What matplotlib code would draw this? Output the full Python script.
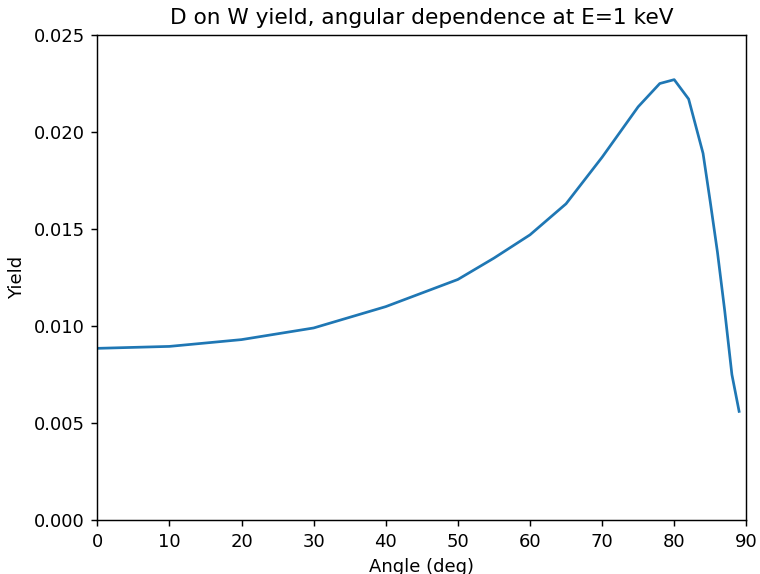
import matplotlib

matplotlib.use("Agg")
import matplotlib.pyplot as plt

# angle of incidence (deg) and sputtering yield
angle = [0, 10, 20, 30, 40, 50, 55, 60, 65, 70, 75, 78, 80, 82, 84, 85, 86, 87, 88, 89]
yield_ = [0.00885, 0.00895, 0.0093, 0.0099, 0.0110, 0.0124, 0.0135, 0.0147, 0.0163,
          0.0187, 0.0213, 0.0225, 0.0227, 0.0217, 0.0189, 0.0164, 0.0138, 0.0108,
          0.0075, 0.0056]

DPI = 130
fig, ax = plt.subplots(figsize=(760 / DPI, 574 / DPI), dpi=DPI)
fig.subplots_adjust(left=0.128, right=0.982, top=0.939, bottom=0.094)

ax.plot(angle, yield_, color="#1f77b4")
ax.set_xlim(0, 90)
ax.set_ylim(0, 0.025)
ax.set_xticks(range(0, 91, 10))
ax.set_xlabel("Angle (deg)")
ax.set_ylabel("Yield")
ax.set_title("D on W yield, angular dependence at E=1 keV")

fig.savefig("out.png", dpi=DPI)
plt.close(fig)
